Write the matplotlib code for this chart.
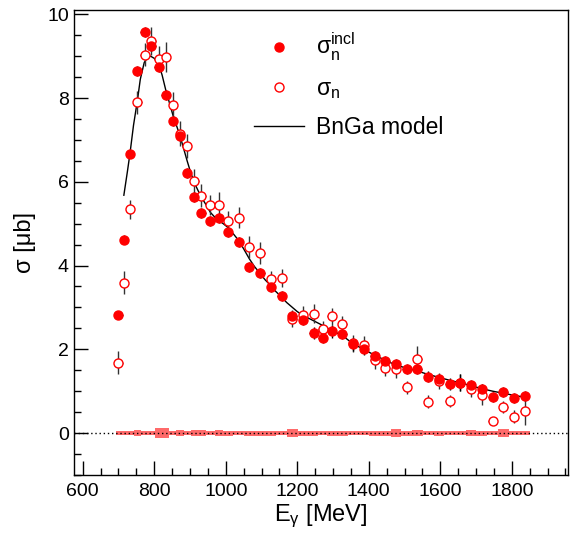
import matplotlib
matplotlib.use("Agg")
import matplotlib.pyplot as plt
import numpy as np
from matplotlib.lines import Line2D
from matplotlib.ticker import MultipleLocator

plt.rcParams['font.family'] = ['Liberation Sans', 'DejaVu Sans']
plt.rcParams['mathtext.fontset'] = 'custom'
plt.rcParams['mathtext.rm'] = 'Liberation Sans'
plt.rcParams['mathtext.default'] = 'regular'

# photon energy bins (MeV)
energy = np.array([700, 715, 732, 753, 773, 792, 812, 832, 852, 872, 892, 912, 932, 957,
                   981, 1006, 1036, 1066, 1097, 1126, 1156, 1186, 1216, 1246, 1271, 1296,
                   1326, 1356, 1386, 1416, 1446, 1476, 1506, 1536, 1566, 1596, 1626, 1656,
                   1686, 1716, 1746, 1776, 1806, 1836])

# inclusive cross section (filled)
sig_incl = np.array([2.81, 4.62, 6.67, 8.65, 9.57, 9.25, 8.75, 8.08, 7.46, 7.10, 6.21, 5.63,
                     5.25, 5.07, 5.13, 4.80, 4.56, 3.97, 3.83, 3.48, 3.28, 2.79, 2.71, 2.39,
                     2.26, 2.43, 2.36, 2.12, 2.01, 1.85, 1.71, 1.65, 1.52, 1.52, 1.35, 1.29,
                     1.17, 1.20, 1.15, 1.04, 0.87, 0.99, 0.83, 0.89])
err_incl = np.array([0.08, 0.10, 0.10, 0.12, 0.12, 0.12, 0.12, 0.12, 0.12, 0.12, 0.12, 0.12,
                     0.12, 0.12, 0.12, 0.12, 0.12, 0.12, 0.12, 0.12, 0.12, 0.12, 0.12, 0.15,
                     0.12, 0.15, 0.12, 0.15, 0.15, 0.12, 0.12, 0.12, 0.12, 0.12, 0.12, 0.12,
                     0.15, 0.20, 0.12, 0.12, 0.12, 0.12, 0.12, 0.12])

# exclusive cross section (open)
sig_n = np.array([1.68, 3.59, 5.34, 7.90, 9.04, 9.36, 8.94, 8.98, 7.83, 7.15, 6.85, 6.02,
                  5.67, 5.44, 5.45, 5.06, 5.14, 4.44, 4.30, 3.67, 3.70, 2.73, 2.82, 2.85,
                  2.48, 2.79, 2.60, 2.14, 2.11, 1.74, 1.56, 1.52, 1.09, 1.77, 0.75, 1.24,
                  0.77, 1.20, 1.05, 0.91, 0.29, 0.62, 0.39, 0.53])
err_n = np.array([0.27, 0.28, 0.23, 0.28, 0.28, 0.33, 0.30, 0.36, 0.32, 0.30, 0.29, 0.28,
                  0.28, 0.24, 0.30, 0.25, 0.25, 0.26, 0.27, 0.20, 0.22, 0.20, 0.22, 0.23,
                  0.20, 0.20, 0.20, 0.20, 0.20, 0.20, 0.20, 0.20, 0.15, 0.30, 0.15, 0.20,
                  0.15, 0.20, 0.20, 0.25, 0.10, 0.15, 0.15, 0.35])

# systematic uncertainty band around zero
sys_err = np.array([0.05, 0.05, 0.05, 0.08, 0.05, 0.05, 0.11, 0.11, 0.05, 0.07, 0.05, 0.08,
                    0.08, 0.05, 0.08, 0.06, 0.05, 0.06, 0.06, 0.06, 0.05, 0.09, 0.06, 0.06,
                    0.04, 0.06, 0.06, 0.04, 0.04, 0.06, 0.06, 0.10, 0.06, 0.08, 0.04, 0.06,
                    0.04, 0.04, 0.07, 0.06, 0.04, 0.09, 0.05, 0.05])

# BnGa model curve
model_e = np.array([715, 725, 732, 742, 753, 761, 772, 782, 790, 800, 812, 822, 832, 842,
                    852, 862, 872, 882, 892, 902, 912, 922, 932, 945, 957, 970, 981, 993,
                    1006, 1020, 1036, 1050, 1066, 1080, 1097, 1110, 1126, 1140, 1156, 1170,
                    1185, 1200, 1216, 1246, 1271, 1296, 1326, 1356, 1386, 1416, 1446, 1476,
                    1506, 1536, 1566, 1596, 1626, 1656, 1686, 1716, 1746, 1776, 1806, 1840])
model_sig = np.array([5.68, 6.25, 6.67, 7.35, 7.95, 8.45, 8.85, 8.98, 9.00, 8.95, 8.82, 8.55,
                      8.20, 7.90, 7.60, 7.35, 7.10, 6.80, 6.50, 6.22, 5.98, 5.80, 5.63, 5.45,
                      5.27, 5.15, 5.07, 5.00, 4.91, 4.77, 4.60, 4.40, 4.16, 3.98, 3.80, 3.66,
                      3.52, 3.38, 3.25, 3.12, 3.01, 2.90, 2.81, 2.68, 2.57, 2.45, 2.33, 2.13,
                      2.00, 1.86, 1.74, 1.62, 1.55, 1.48, 1.40, 1.33, 1.26, 1.20, 1.13, 1.06,
                      1.00, 0.95, 0.90, 0.85])

fig = plt.figure(figsize=(5.72, 5.36), dpi=100)
ax = fig.add_axes([0.129, 0.114, 0.864, 0.867])

# systematic band
edges = np.concatenate([[energy[0] - (energy[1] - energy[0]) / 2],
                        (energy[1:] + energy[:-1]) / 2,
                        [energy[-1] + (energy[-1] - energy[-2]) / 2]])
ax.bar((edges[1:] + edges[:-1]) / 2, 2 * sys_err, bottom=-sys_err, width=np.diff(edges),
       color='#ff5050', alpha=0.85, linewidth=0, zorder=1)
ax.axhline(0, color='black', linestyle=(0, (1, 2)), linewidth=1, zorder=2)

# model
ax.plot(model_e, model_sig, color='black', linewidth=1, zorder=3)

xerr = 12
ax.errorbar(energy, sig_n, yerr=err_n, xerr=xerr, fmt='none', ecolor='#333333',
            elinewidth=1, capsize=0, zorder=4)
ax.errorbar(energy, sig_incl, yerr=err_incl, xerr=xerr, fmt='none', ecolor='black',
            elinewidth=1, capsize=0, zorder=4)
ax.plot(energy, sig_n, 'o', markersize=6.5, markerfacecolor='white',
        markeredgecolor='red', markeredgewidth=1, linestyle='none', zorder=5)
ax.plot(energy, sig_incl, 'o', markersize=6.5, color='red', linestyle='none', zorder=6)

ax.set_xlim(575, 1957)
ax.set_ylim(-1, 10.1)
ax.xaxis.set_major_locator(MultipleLocator(200))
ax.xaxis.set_minor_locator(MultipleLocator(50))
ax.yaxis.set_major_locator(MultipleLocator(2))
ax.yaxis.set_minor_locator(MultipleLocator(0.5))
ax.tick_params(which='both', direction='in', top=False, right=False, labelsize=14)
ax.tick_params(which='major', length=10, width=1)
ax.tick_params(which='minor', length=5, width=1)
ax.tick_params(axis='x', pad=6)
for s in ax.spines.values():
    s.set_linewidth(1)

ax.set_xlabel(r'$E_{γ}$ [MeV]', fontsize=17, labelpad=2)
ax.set_ylabel('σ [μb]', fontsize=17, labelpad=8)

handles = [
    Line2D([], [], marker='o', color='red', linestyle='none', markersize=6.5),
    Line2D([], [], marker='o', markerfacecolor='white', markeredgecolor='red',
           markeredgewidth=1, linestyle='none', markersize=6.5),
    Line2D([], [], color='black', linewidth=1),
]
labels = [r'$σ_{n}^{incl}$', r'$σ_{n}$', 'BnGa model']
ax.legend(handles, labels, loc='upper left', bbox_to_anchor=(0.364, 0.955),
          frameon=False, fontsize=16.5, handlelength=2.2, handletextpad=0.5,
          labelspacing=0.62, borderpad=0, borderaxespad=0)

fig.savefig('out.png', dpi=100, facecolor='white')
